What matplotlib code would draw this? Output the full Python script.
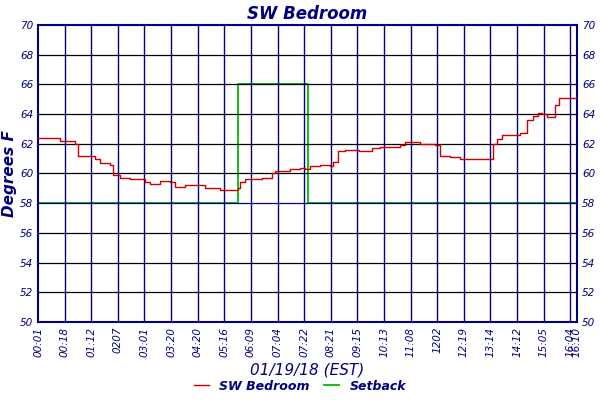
import matplotlib
matplotlib.use("Agg")
import matplotlib.pyplot as plt

tick_labels = ["00:01","00:18","01:12","0207","03:01","03:20","04:20","05:16","06:09","07:04",
               "07:22","08:21","09:15","10:13","11:08","1202","12:19","13:14","14:12","15:05","16:04","16:10"]

# SW Bedroom temperature (sample index units, degrees F)
room_x = [0,0.79,1.33,1.44,2.06,2.24,2.6,2.71,2.97,3.32,3.86,4.04,4.4,4.76,4.94,5.3,5.84,6.02,6.57,7.1,7.21,7.29,7.47,7.83,8.08,8.44,8.55,9.09,9.45,9.63,9.81,10.17,10.53,10.64,10.82,11.08,11.6,12.05,12.34,13.06,13.24,13.78,14.32,14.5,14.87,15.23,16.31,16.42,16.56,16.74,17.38,17.63,17.85,18.03,18.2,18.35,18.57,18.64,18.79,19.45]
room_y = [62.4,62.2,62.0,61.2,61.0,60.7,60.6,59.9,59.7,59.6,59.4,59.3,59.5,59.4,59.1,59.2,59.2,59.0,58.9,58.9,59.0,59.4,59.6,59.6,59.7,60.0,60.2,60.3,60.4,60.3,60.5,60.6,60.5,60.8,61.5,61.6,61.5,61.7,61.8,61.9,62.1,62.0,61.9,61.2,61.1,61.0,61.0,62.0,62.3,62.6,62.7,63.6,63.9,64.1,64.0,63.8,63.8,64.6,65.1,65.4]
setback_x = [0,7.2,7.2,9.75,9.75,19.45]
setback_y = [58,58,66,66,58,58]

step = 19.45 / 20.25
tick_pos = [i * step for i in range(21)] + [19.45]

navy = "#000080"
plt.rcParams['font.family'] = ['DejaVu Sans']
fig = plt.figure(figsize=(6,4), dpi=100)
ax = fig.add_axes([38/600, 1-322/400, 539/600, 297/400])
ax.plot(setback_x, setback_y, color="#00bb00", lw=1.3, drawstyle="steps-post", label="Setback", zorder=1)
ax.plot(room_x, room_y, color="#cc0000", lw=1, drawstyle="steps-post", label="SW Bedroom", zorder=4)
ax.set_xlim(0, 19.45)
ax.set_ylim(50, 70)
for t in range(52, 70, 2):
    ax.axhline(t, color="black" if t != 58 else navy, lw=0.9, zorder=2)
for p in tick_pos[1:-1]:
    ax.axvline(p, color=navy, lw=1, zorder=2)
for s in ax.spines.values():
    s.set_color(navy); s.set_linewidth(1.5)
ax.set_xticks(tick_pos)
ax.set_xticklabels(tick_labels, rotation=90, fontsize=7, color=navy, style="italic")
ax.set_yticks(range(50, 71, 2))
ax.tick_params(axis='both', length=0, labelcolor=navy, labelsize=7.5, labelright=True)
for l in ax.get_yticklabels(): l.set_style("italic")
ax.set_ylabel("Degrees F", color=navy, fontsize=11, style="italic", fontweight="bold", labelpad=2)
ax.set_xlabel("01/19/18 (EST)", color=navy, fontsize=11, style="italic", labelpad=4)
ax.set_title("SW Bedroom", color=navy, fontsize=12, style="italic", fontweight="bold", pad=4)
h, l = ax.get_legend_handles_labels()
leg = fig.legend(h[::-1], l[::-1], loc="lower center", ncol=2, frameon=False, bbox_to_anchor=(0.5, -0.01),
                 fontsize=9, handlelength=1.2, columnspacing=1.2)
for t in leg.get_texts():
    t.set_color(navy); t.set_style("italic"); t.set_fontweight("bold")
fig.savefig("out.png", dpi=100)
